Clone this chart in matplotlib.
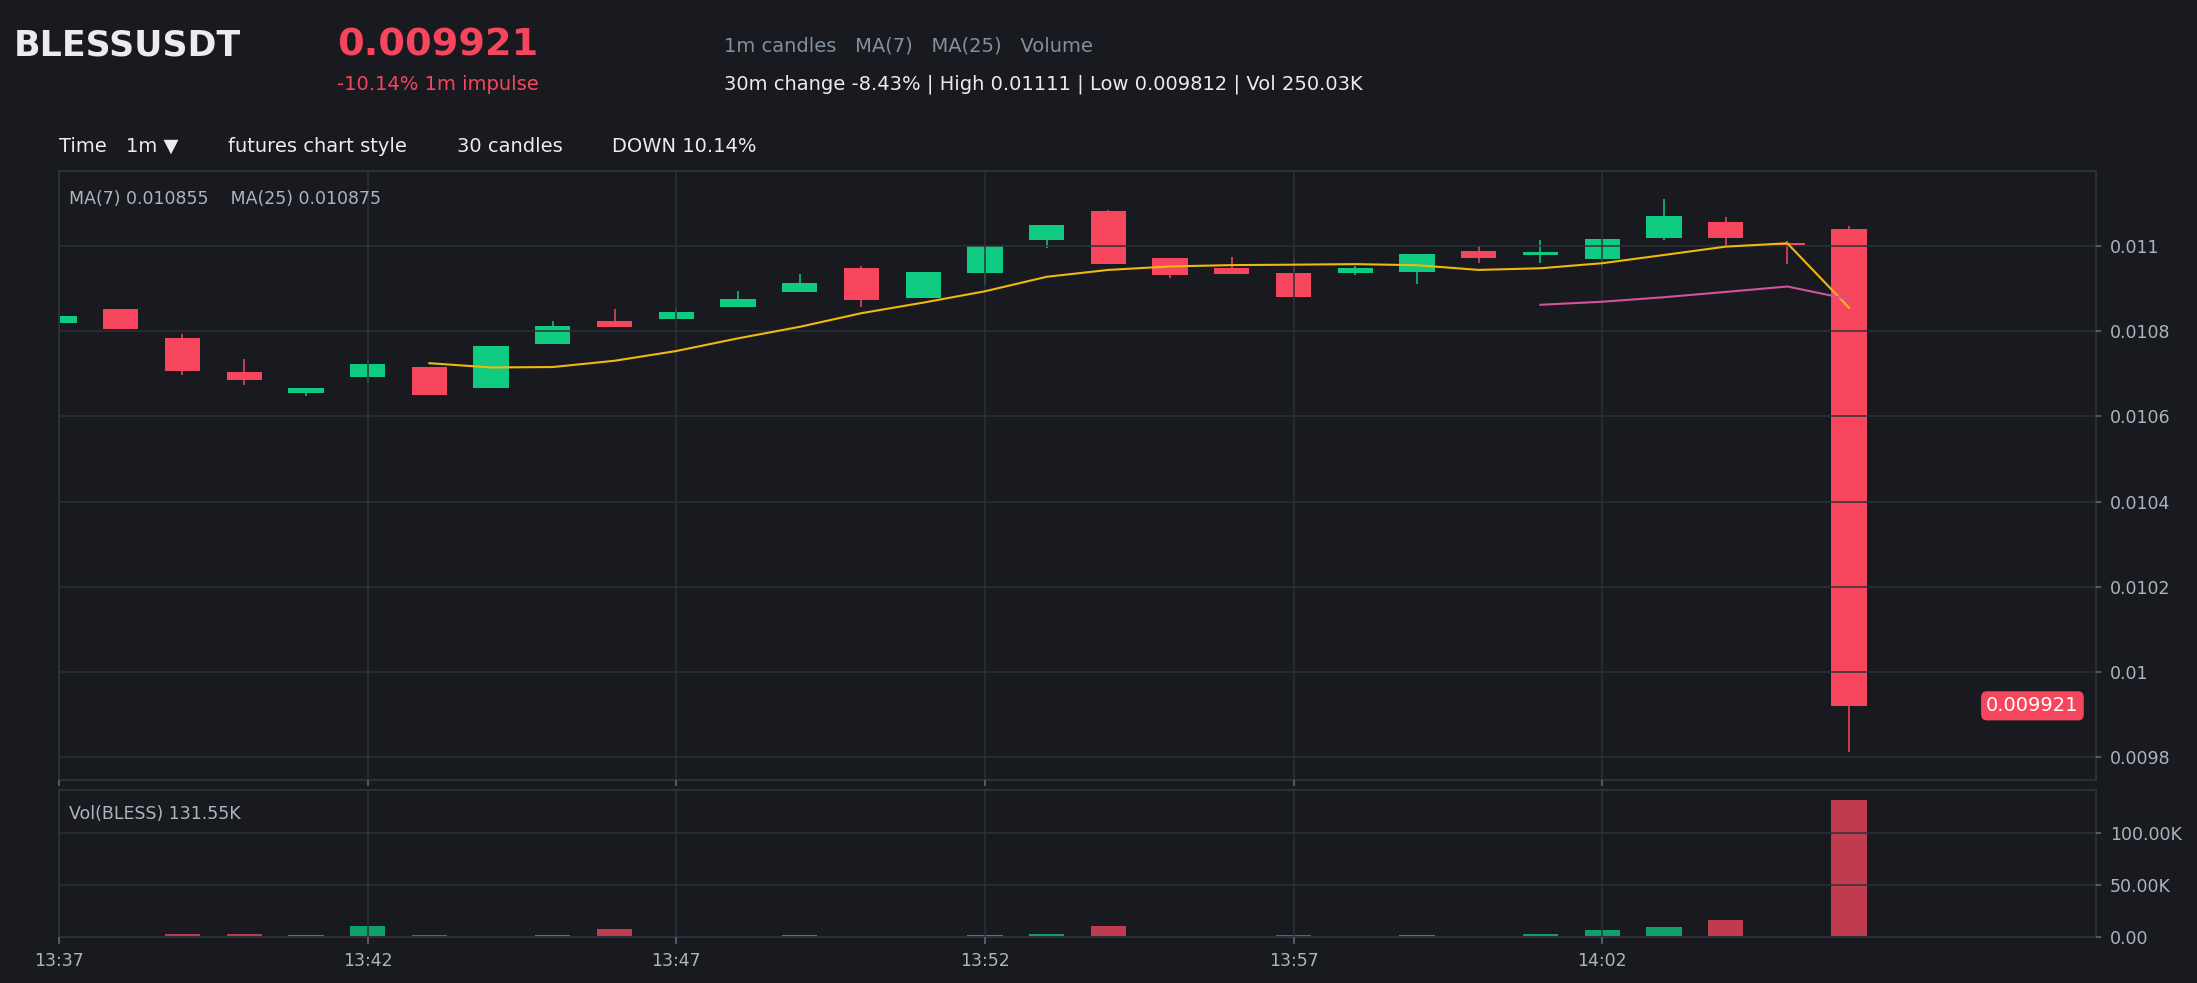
import numpy as np
import pandas as pd
import matplotlib
matplotlib.use("Agg")
import matplotlib.pyplot as plt
import matplotlib.transforms as mtransforms

# ---------------- data ----------------
time_labels = ["13:37", "13:42", "13:47", "13:52", "13:57", "14:02"]
tick_idx = [0, 5, 10, 15, 20, 25]

opens = [0.010819, 0.010851, 0.010784, 0.010704, 0.010654, 0.010693, 0.010716, 0.010665,
         0.010770, 0.010823, 0.010827, 0.010855, 0.010892, 0.010947, 0.010876, 0.010936,
         0.011013, 0.011080, 0.010970, 0.010947, 0.010935, 0.010936, 0.010939, 0.010987,
         0.010978, 0.010968, 0.011017, 0.011055, 0.011005, 0.011040]
closes = [0.010835, 0.010805, 0.010707, 0.010684, 0.010667, 0.010723, 0.010649, 0.010765,
          0.010812, 0.010810, 0.010844, 0.010875, 0.010912, 0.010873, 0.010938, 0.010998,
          0.011048, 0.010957, 0.010932, 0.010934, 0.010880, 0.010947, 0.010980, 0.010971,
          0.010984, 0.011015, 0.011069, 0.011017, 0.011002, 0.009921]
highs = [0.010835, 0.010851, 0.010793, 0.010735, 0.010667, 0.010732, 0.010716, 0.010765,
         0.010823, 0.010851, 0.010854, 0.010893, 0.010933, 0.010952, 0.010938, 0.010998,
         0.011048, 0.011083, 0.010970, 0.010974, 0.010968, 0.010952, 0.010980, 0.010998,
         0.011013, 0.011015, 0.011110, 0.011066, 0.011010, 0.011045]
lows = [0.010819, 0.010805, 0.010697, 0.010674, 0.010648, 0.010677, 0.010649, 0.010665,
        0.010770, 0.010810, 0.010827, 0.010855, 0.010892, 0.010857, 0.010876, 0.010908,
        0.010995, 0.010957, 0.010923, 0.010934, 0.010880, 0.010932, 0.010911, 0.010960,
        0.010959, 0.010950, 0.011013, 0.011000, 0.010956, 0.009812]
volumes_k = [0.3, 0.3, 2.9, 2.9, 1.5, 10.8, 1.9, 0.3, 1.6, 7.9, 0.3, 0.5, 1.6, 1.3, 1.3,
             2.2, 3.2, 10.8, 0.4, 0.3, 2.2, 0.3, 2.2, 0.5, 3.2, 7.0, 9.8, 16.8, 0.4, 131.55]

price_ticks = [0.0098, 0.0100, 0.0102, 0.0104, 0.0106, 0.0108, 0.0110]
price_tick_labels = ["0.0098", "0.01", "0.0102", "0.0104", "0.0106", "0.0108", "0.011"]
vol_ticks = [0, 50000, 100000]
vol_tick_labels = ["0.00", "50.00K", "100.00K"]

symbol = "BLESSUSDT"
last_price = "0.009921"
impulse = "-10.14% 1m impulse"
legend_line = "1m candles   MA(7)   MA(25)   Volume"
stats_line = "30m change -8.43% | High 0.01111 | Low 0.009812 | Vol 250.03K"
toolbar = [("Time", 59), ("1m \u25bc", 126), ("futures chart style", 228),
           ("30 candles", 457), ("DOWN 10.14%", 612)]
ma_label = "MA(7) 0.010855    MA(25) 0.010875"
vol_label = "Vol(BLESS) 131.55K"

# ---------------- style ----------------
BG = "#181a20"
UP = "#0ecb81"
DOWN = "#f6465d"
GRID = "#2b3139"
SPINE = "#2b2f36"
TXT = "#eaecef"
MUTED = "#848e9c"
TICK = "#aeb4bc"
MA7C = "#f0b90b"
MA25C = "#d5519a"

W, H = 2197, 983
plt.rcParams['font.family'] = ['DejaVu Sans']
fig = plt.figure(figsize=(W / 100, H / 100), dpi=100, facecolor=BG)

def rect(x0, y0, x1, y1):
    return [x0 / W, 1 - y1 / H, (x1 - x0) / W, (y1 - y0) / H]

axp = fig.add_axes(rect(59, 171, 2096, 780))
axv = fig.add_axes(rect(59, 790, 2096, 937), sharex=axp)

o = np.array(opens); c = np.array(closes); h = np.array(highs); l = np.array(lows)
x = np.arange(len(o))
up = c >= o
colors = np.where(up, UP, DOWN)
width = 0.57

for ax in (axp, axv):
    ax.set_facecolor(BG)
    for s in ax.spines.values():
        s.set_color(SPINE)
        s.set_linewidth(1.5)
    ax.set_axisbelow(False)
    ax.grid(True, color=GRID, linewidth=1.2, alpha=0.9)
    ax.yaxis.tick_right()
    ax.tick_params(axis='y', colors='#5e6673', labelsize=12.5, length=3.6, width=1.2,
                   pad=6.5, labelcolor=TICK)

# candles
axp.vlines(x, l, h, colors=colors, linewidth=1.1, zorder=1.2)
body_bottom = np.minimum(o, c)
body_h = np.maximum(np.abs(c - o), 0.0000025)
axp.bar(x, body_h, bottom=body_bottom, width=width, color=colors, zorder=1.3, linewidth=0)

# moving averages
cs = pd.Series(c)
ma7 = cs.rolling(7).mean()
ma25 = cs.rolling(25).mean()
axp.plot(x, ma7, color=MA7C, linewidth=1.5, zorder=3)
axp.plot(x, ma25, color=MA25C, linewidth=1.5, zorder=3)

rng = h.max() - l.min()
axp.set_ylim(l.min() - 0.05 * rng, h.max() + 0.05 * rng)
axp.set_xlim(0, 33)
axp.set_yticks(price_ticks)
axp.set_yticklabels(price_tick_labels)
axp.set_xticks(tick_idx)
axp.tick_params(axis='x', labelbottom=False, color='#5e6673', length=4.5, width=1.2)

# last price badge
trans = mtransforms.blended_transform_factory(axp.transAxes, axp.transData)
axp.text(0.9915, c[-1], last_price, transform=trans, ha='right', va='center',
         fontsize=14, color='white', zorder=5,
         bbox=dict(boxstyle='round,pad=0.26,rounding_size=0.3', fc=DOWN, ec='none'))

axp.text(10 / 2037, 1 - 27.5 / 609, ma_label, transform=axp.transAxes, ha='left',
         va='center', fontsize=12.5, color=TICK)

# volume
vols = np.array(volumes_k) * 1000
axv.bar(x, vols, width=width, color=colors, alpha=0.76, linewidth=0, zorder=1.3)
axv.set_ylim(0, vols.max() * 1.075)
axv.set_yticks(vol_ticks)
axv.set_yticklabels(vol_tick_labels)
axv.set_xticks(tick_idx)
axv.set_xticklabels(time_labels)
axv.tick_params(axis='x', colors='#5e6673', labelcolor=TICK, labelsize=12.5,
                length=5, width=1.2, pad=6)
axv.text(10 / 2037, 1 - 24 / 147, vol_label, transform=axv.transAxes, ha='left',
         va='center', fontsize=12.5, color=TICK)

# header texts
def ftext(px, py, s, **kw):
    fig.text(px / W, 1 - py / H, s, va='center', ha='left', **kw)

ftext(14, 46, symbol, fontsize=25, fontweight='bold', color=TXT)
ftext(337, 45, last_price, fontsize=27.5, fontweight='bold', color=DOWN)
ftext(337, 84, impulse, fontsize=14, color=DOWN)
ftext(724, 46, legend_line, fontsize=14, color=MUTED)
ftext(724, 84, stats_line, fontsize=14, color=TXT)
for s, px in toolbar:
    ftext(px, 146, s, fontsize=14, color=TXT)

fig.savefig("out.png", dpi=100, facecolor=BG)
